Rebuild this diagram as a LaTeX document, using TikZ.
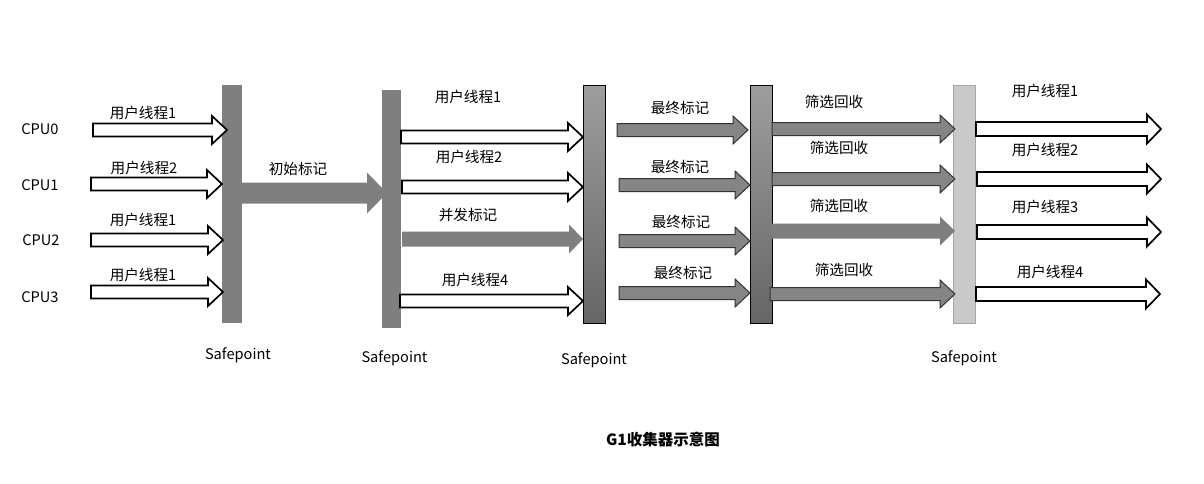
\documentclass[tikz,border=0pt]{standalone}
\usepackage{fontspec}
\setmainfont{Noto Sans CJK SC}
\usetikzlibrary{positioning}

% a flat block arrow: style, x start, x tip, y, shaft half, head half, head length
\newcommand{\blockarrow}[7]{\path [#1] (#2,#4-#5) -- (#3-#7,#4-#5) -- (#3-#7,#4-#6) -- (#3,#4) -- (#3-#7,#4+#6) -- (#3-#7,#4+#5) -- (#2,#4+#5) -- cycle;}
\newcommand{\flow}[4]{\blockarrow{#1}{#2}{#3}{#4}{6.5}{14}{15}}

\definecolor{barg}{HTML}{7F7F7F}
\definecolor{arrg}{HTML}{858585}

\tikzset{
  txt/.style={inner sep=0pt, font=\fontsize{14.6}{16}\selectfont},
  bar/.style={inner sep=0pt, minimum height=238pt},
  hollow/.style={draw=black, fill=white, line width=1.7pt},
  grayedge/.style={draw=black!80, fill=arrg, line width=1pt},
  grayflat/.style={fill=barg},
}

\begin{document}
\begin{tikzpicture}[x=1pt, y=-1pt]
\useasboundingbox (0,0) rectangle (1204,483);

% safepoint bars
\node (sp1) [bar, fill=barg, minimum width=20pt] at (232,204) {};
\node (sp2) [bar, fill=barg, minimum width=19pt] at (391.5,209) {};
\node (sp3) [bar, draw=black, thin, top color=black!38, bottom color=black!60, minimum width=22pt] at (594,204) {};
\node (sp4) [bar, draw=black, thin, top color=black!38, bottom color=black!60, minimum width=22pt] at (761,204) {};
\node (sp5) [bar, draw=black!35, thin, fill=black!21, minimum width=22pt] at (964,204) {};

\node [txt, below=24pt of sp1, xshift=6pt] {Safepoint};
\node [txt, below=22pt of sp2, xshift=3pt] {Safepoint};
\node [txt, below=29pt of sp3] {Safepoint};
\node [txt, below=27pt of sp5] {Safepoint};

% cpus
\node (cpu0) [txt] at (40,129) {CPU0};
\node (cpu1) [txt] at (40,185) {CPU1};
\node (cpu2) [txt] at (41,240) {CPU2};
\node (cpu3) [txt] at (40,297) {CPU3};

% user threads up to the first safepoint
\flow{hollow}{93}{227}{130}
\flow{hollow}{91}{222}{184}
\flow{hollow}{91}{223}{240}
\flow{hollow}{91}{223}{292}
\node [txt] at (143,113) {用户线程1};
\node [txt] at (144,168) {用户线程2};
\node [txt] at (143,220) {用户线程1};
\node [txt] at (143,275) {用户线程1};

% initial mark
\blockarrow{grayflat}{240}{387}{193}{10.5}{20.5}{20}
\node [txt] at (298,169) {初始标记};

% concurrent phase
\flow{hollow}{401}{583}{137}
\flow{hollow}{402}{583}{187}
\blockarrow{grayflat}{402}{583}{239}{7.5}{14.5}{14}
\flow{hollow}{400}{583}{301}
\node [txt] at (468,97) {用户线程1};
\node [txt] at (469,157) {用户线程2};
\node [txt] at (468,215) {并发标记};
\node [txt] at (475,280) {用户线程4};

% final mark
\flow{grayedge}{617}{748}{130}
\flow{grayedge}{619}{750}{185}
\flow{grayedge}{619}{750}{241}
\flow{grayedge}{619}{750}{293}
\node [txt] at (680,108) {最终标记};
\node [txt] at (680,167) {最终标记};
\node [txt] at (681,222) {最终标记};
\node [txt] at (683,273) {最终标记};

% evacuation
\flow{grayedge}{772}{955}{129}
\flow{grayedge}{772}{955}{179}
\blockarrow{grayflat}{772}{955}{231}{7.5}{14.5}{15}
\flow{grayedge}{770}{955}{294}
\node [txt] at (834,102) {筛选回收};
\node [txt] at (839,148) {筛选回收};
\node [txt] at (839,206) {筛选回收};
\node [txt] at (844,270) {筛选回收};

% user threads again
\blockarrow{hollow}{976}{1161}{129}{7}{14.5}{14}
\blockarrow{hollow}{977}{1161}{179}{7}{14.5}{14}
\blockarrow{hollow}{977}{1161}{232}{7}{14.5}{14}
\blockarrow{hollow}{976}{1160}{294}{7}{14.5}{14}
\node [txt] at (1045,91) {用户线程1};
\node [txt] at (1045,150) {用户线程2};
\node [txt] at (1045,207) {用户线程3};
\node [txt] at (1050,272) {用户线程4};

\node (title) [txt, font=\fontsize{15.5}{17}\selectfont\bfseries] at (663,440) {G1收集器示意图};
\end{tikzpicture}
\end{document}
